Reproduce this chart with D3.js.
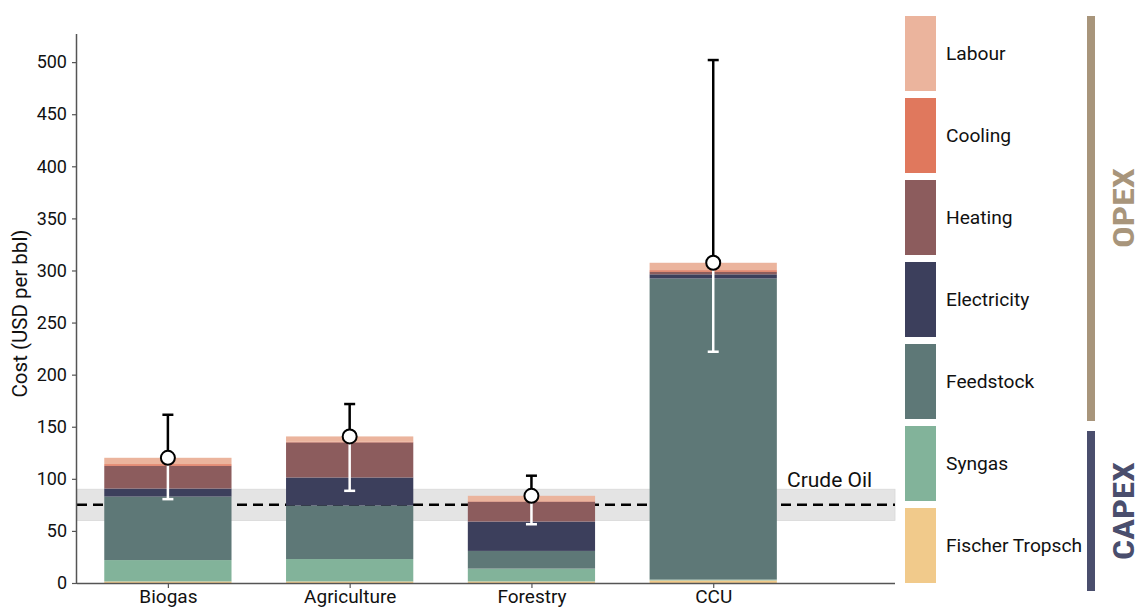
<!DOCTYPE html>
<html><head><meta charset="utf-8">
<script src="https://cdn.jsdelivr.net/npm/d3@7"></script>
<style>
html,body{margin:0;padding:0;background:#fff;}
svg{display:block;font-family:Roboto, "DejaVu Sans", sans-serif;}
</style></head>
<body><svg id="chart" width="1143" height="610"></svg>
<script>
// ---- data ----
const categories = ["Biogas", "Agriculture", "Forestry", "CCU"];
const seriesNames = ["Fischer Tropsch", "Syngas", "Feedstock", "Electricity", "Heating", "Cooling", "Labour"];
const fischerTropsch = [1.5, 1.5, 1.5, 2.5];
const syngas        = [20.5, 21.5, 12.3, 0.8];
const feedstock     = [61.0, 51.4, 17.0, 289.0];
const electricity   = [7.7, 26.9, 28.2, 4.0];
const heating       = [21.8, 33.7, 19.0, 2.4];
const cooling       = [1.6, 0.5, 0.5, 1.6];
const labour        = [6.1, 5.2, 5.2, 7.1];
const errorLow  = [80.5, 88.5, 56.4, 222];
const errorHigh = [161.5, 171.8, 103, 502];
const yTicks = [0, 50, 100, 150, 200, 250, 300, 350, 400, 450, 500];
const crudeOil = {low: 60, mid: 75, high: 90, label: "Crude Oil"};
const groups = [
  {name: "OPEX", members: ["Labour", "Cooling", "Heating", "Electricity", "Feedstock"]},
  {name: "CAPEX", members: ["Syngas", "Fischer Tropsch"]}
];

const colors = {
  "Fischer Tropsch": "#f1ca8b",
  "Syngas": "#82b39a",
  "Feedstock": "#5e7877",
  "Electricity": "#3c3f5c",
  "Heating": "#8c5c5d",
  "Cooling": "#e0785d",
  "Labour": "#ebb49d"
};
const groupColors = {OPEX: "#a8957b", CAPEX: "#4a4e6d"};

const seriesValues = [fischerTropsch, syngas, feedstock, electricity, heating, cooling, labour];
const table = categories.map((c, i) => {
  const row = {category: c, idx: i};
  seriesNames.forEach((s, k) => row[s] = seriesValues[k][i]);
  return row;
});
const totals = table.map(r => d3.sum(seriesNames, s => r[s]));

// ---- scales ----
const svg = d3.select("#chart");
const x = d3.scaleLinear().domain([-0.5, 4]).range([77, 895]);
const y = d3.scaleLinear().domain([0, 527]).range([583, 34]);
const barW = x(0.7) - x(0);

// crude oil band
svg.append("rect")
  .attr("x", x(-0.5)).attr("width", x(4) - x(-0.5))
  .attr("y", y(crudeOil.high)).attr("height", y(crudeOil.low) - y(crudeOil.high))
  .attr("fill", "#e4e4e4").attr("stroke", "#d8d8d8").attr("stroke-width", 0.8);
svg.append("line")
  .attr("x1", x(-0.5)).attr("x2", x(4))
  .attr("y1", y(crudeOil.mid)).attr("y2", y(crudeOil.mid))
  .attr("stroke", "#000").attr("stroke-width", 2.5).attr("stroke-dasharray", "10,6");
svg.append("text")
  .attr("x", 787).attr("y", y(crudeOil.high) - 2)
  .attr("font-size", 21).attr("fill", "#111").text(crudeOil.label);

// stacked bars
const stack = d3.stack().keys(seriesNames)(table);
svg.append("g").selectAll("g").data(stack).join("g")
  .attr("fill", d => colors[d.key])
  .selectAll("rect").data(d => d).join("rect")
  .attr("x", d => x(d.data.idx) - barW / 2)
  .attr("width", barW)
  .attr("y", d => y(d[1]))
  .attr("height", d => Math.max(0, y(d[0]) - y(d[1])));

// error bars
const capW = 11;
const eg = svg.append("g");
table.forEach((r, i) => {
  const cx = x(i), t = totals[i];
  eg.append("line").attr("x1", cx).attr("x2", cx).attr("y1", y(t)).attr("y2", y(errorHigh[i]))
    .attr("stroke", "#000").attr("stroke-width", 2.5);
  eg.append("line").attr("x1", cx - capW / 2).attr("x2", cx + capW / 2).attr("y1", y(errorHigh[i])).attr("y2", y(errorHigh[i]))
    .attr("stroke", "#000").attr("stroke-width", 2.5);
  eg.append("line").attr("x1", cx).attr("x2", cx).attr("y1", y(t)).attr("y2", y(errorLow[i]))
    .attr("stroke", "#fff").attr("stroke-width", 2.5);
  eg.append("line").attr("x1", cx - capW / 2).attr("x2", cx + capW / 2).attr("y1", y(errorLow[i])).attr("y2", y(errorLow[i]))
    .attr("stroke", "#fff").attr("stroke-width", 2.5);
  eg.append("circle").attr("cx", cx).attr("cy", y(t)).attr("r", 7)
    .attr("fill", "#fff").attr("stroke", "#000").attr("stroke-width", 2);
});

// axes
const yAxis = svg.append("g").attr("transform", `translate(${x(-0.5)},0)`)
  .call(d3.axisLeft(y).tickValues(yTicks).tickSize(5).tickPadding(5));
const xAxis = svg.append("g").attr("transform", `translate(0,${y(0)})`)
  .call(d3.axisBottom(x).tickValues(categories.map((c, i) => i)).tickFormat(i => categories[i]).tickSize(5).tickPadding(2));
[yAxis, xAxis].forEach(a => {
  a.select(".domain").attr("stroke", "#555").attr("stroke-width", 1.5);
  a.selectAll(".tick line").attr("stroke", "#555").attr("stroke-width", 1.2);
  a.selectAll("text").attr("fill", "#111").attr("font-family", "Roboto, sans-serif");
});
yAxis.selectAll("text").attr("font-size", 18);
xAxis.selectAll("text").attr("font-size", 19);
yAxis.select(".domain").attr("d", `M-0.5,${y(527)}V${y(0)}`);
xAxis.select(".domain").attr("d", `M${x(-0.5)},0.5H${x(4)}`);

svg.append("text")
  .attr("transform", `translate(27,${(y(527) + y(0)) / 2 + 5}) rotate(-90)`)
  .attr("text-anchor", "middle").attr("font-size", 20.5).attr("fill", "#111")
  .text("Cost (USD per bbl)");

// legend
const legendOrder = ["Labour", "Cooling", "Heating", "Electricity", "Feedstock", "Syngas", "Fischer Tropsch"];
const lg = svg.append("g");
legendOrder.forEach((s, k) => {
  const top = 16 + k * 82;
  lg.append("rect").attr("x", 905).attr("y", top).attr("width", 31).attr("height", 75).attr("fill", colors[s]);
  lg.append("text").attr("x", 946).attr("y", top + 37.5).attr("dy", "0.35em")
    .attr("font-size", 19.2).attr("fill", "#111").text(s);
});

// group brackets
const groupSpans = {OPEX: [16, 421], CAPEX: [431, 591]};
const groupCenter = {OPEX: 208, CAPEX: 511};
const groupLen = {OPEX: 80, CAPEX: 98};
groups.forEach(g => {
  const [a, b] = groupSpans[g.name];
  svg.append("rect").attr("x", 1087).attr("y", a).attr("width", 8).attr("height", b - a).attr("fill", groupColors[g.name]);
  svg.append("text")
    .attr("transform", `translate(1134,${groupCenter[g.name]}) rotate(-90)`)
    .attr("text-anchor", "middle")
    .attr("font-family", "'Liberation Sans Narrow', 'Roboto Condensed', Roboto, sans-serif")
    .attr("font-weight", "bold").attr("font-size", 29)
    .attr("textLength", groupLen[g.name]).attr("lengthAdjust", "spacingAndGlyphs")
    .attr("fill", groupColors[g.name]).text(g.name);
});
</script></body></html>
